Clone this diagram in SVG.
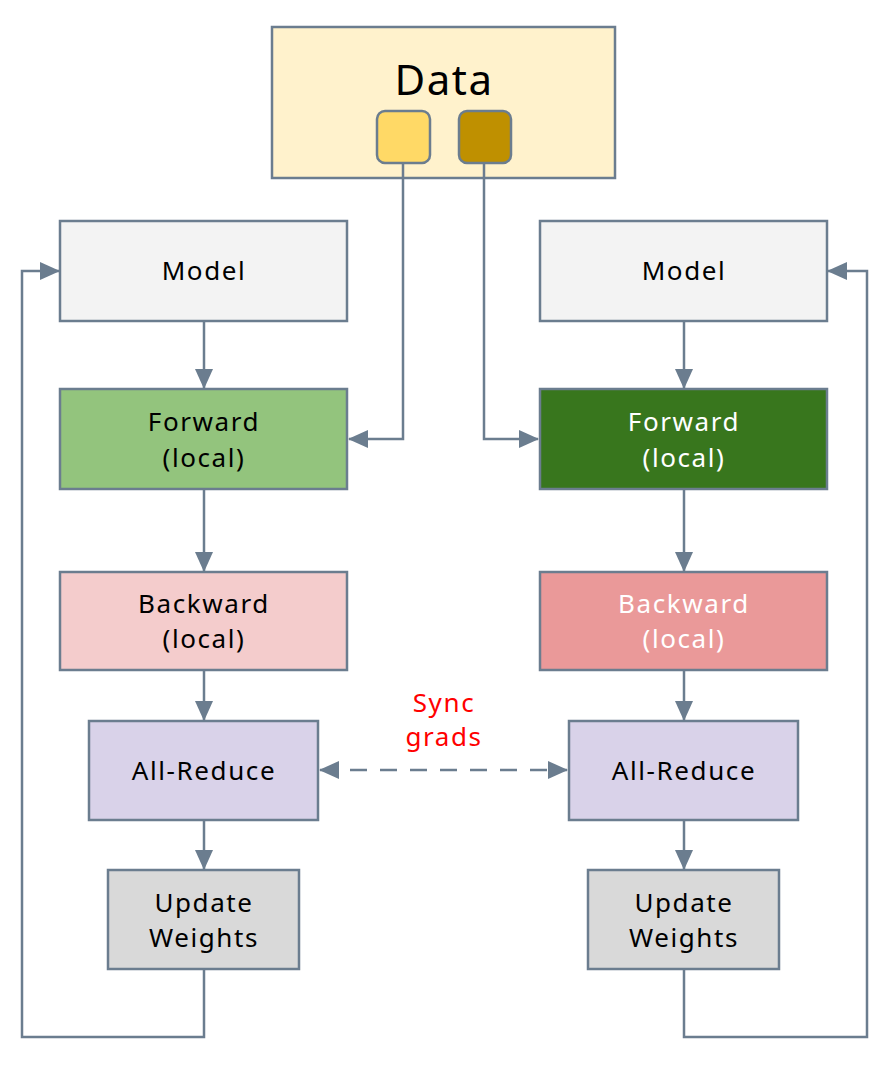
<svg xmlns="http://www.w3.org/2000/svg" width="893" height="1065" viewBox="0 0 893 1065">
<style>
.n{stroke:#6B7D8F;stroke-width:2.5}
.t{font-family:"Noto Sans","Open Sans",sans-serif;font-size:26px;text-anchor:middle;fill:#000;letter-spacing:1.6px}
.w{fill:#fff}
.c{fill:none;stroke:#6B7D8F;stroke-width:2.5}
</style>
<defs>
<marker id="a" viewBox="0 0 20 18" refX="19" refY="9" markerWidth="20" markerHeight="18" markerUnits="userSpaceOnUse" orient="auto-start-reverse">
<path d="M0,0 L20,9 L0,18 z" fill="#6B7D8F"/>
</marker>
</defs>
<rect width="893" height="1065" fill="#fff"/>
<g id="data">
<rect class="n" x="272" y="27" width="343" height="151" fill="#FFF2CC"/>
<text class="t" x="444" y="95" style="font-size:42px;letter-spacing:1.5px">Data</text>
<rect class="n" x="377" y="111" width="53" height="52" rx="8" fill="#FFD966"/>
<rect class="n" x="459" y="111" width="52" height="52" rx="8" fill="#BF9000"/>
</g>
<g id="model-l"><rect class="n" x="60" y="221" width="287" height="100" fill="#F3F3F3"/><text class="t" x="204" y="280">Model</text></g>
<g id="forward-l"><rect class="n" x="60" y="389" width="287" height="100" fill="#93C47D"/><text class="t" x="204" y="431">Forward</text><text class="t" x="204" y="467">(local)</text></g>
<g id="backward-l"><rect class="n" x="60" y="572" width="287" height="98" fill="#F4CCCC"/><text class="t" x="204" y="613">Backward</text><text class="t" x="204" y="648">(local)</text></g>
<g id="allreduce-l"><rect class="n" x="89" y="721" width="229" height="99" fill="#D9D2E9"/><text class="t" x="204" y="780">All-Reduce</text></g>
<g id="update-l"><rect class="n" x="108" y="870" width="191" height="99" fill="#D9D9D9"/><text class="t" x="204" y="912">Update</text><text class="t" x="204" y="947">Weights</text></g>
<g id="model-r"><rect class="n" x="540" y="221" width="287" height="100" fill="#F3F3F3"/><text class="t" x="684" y="280">Model</text></g>
<g id="forward-r"><rect class="n" x="540" y="389" width="287" height="100" fill="#38761D"/><text class="t w" x="684" y="431">Forward</text><text class="t w" x="684" y="467">(local)</text></g>
<g id="backward-r"><rect class="n" x="540" y="572" width="287" height="98" fill="#EA9999"/><text class="t w" x="684" y="613">Backward</text><text class="t w" x="684" y="648">(local)</text></g>
<g id="allreduce-r"><rect class="n" x="569" y="721" width="229" height="99" fill="#D9D2E9"/><text class="t" x="684" y="780">All-Reduce</text></g>
<g id="update-r"><rect class="n" x="588" y="870" width="191" height="99" fill="#D9D9D9"/><text class="t" x="684" y="912">Update</text><text class="t" x="684" y="947">Weights</text></g>
<g id="sync-label">
<text class="t" x="444" y="712" style="fill:#FF0000">Sync</text>
<text class="t" x="444" y="746" style="fill:#FF0000">grads</text>
</g>
<g id="connectors">
<path class="c" d="M403,163 V439 H349" marker-end="url(#a)"/>
<path class="c" d="M484,163 V439 H538" marker-end="url(#a)"/>
<path class="c" d="M204,321 V388" marker-end="url(#a)"/>
<path class="c" d="M204,489 V571" marker-end="url(#a)"/>
<path class="c" d="M204,670 V720" marker-end="url(#a)"/>
<path class="c" d="M204,820 V869" marker-end="url(#a)"/>
<path class="c" d="M684,321 V388" marker-end="url(#a)"/>
<path class="c" d="M684,489 V571" marker-end="url(#a)"/>
<path class="c" d="M684,670 V720" marker-end="url(#a)"/>
<path class="c" d="M684,820 V869" marker-end="url(#a)"/>
<path class="c" d="M204,969 V1037 H22 V271 H59" marker-end="url(#a)"/>
<path class="c" d="M684,969 V1037 H867 V271 H828" marker-end="url(#a)"/>
<path class="c" d="M320,770 H567" stroke-dasharray="17,13" marker-start="url(#a)" marker-end="url(#a)"/>
</g>
</svg>
